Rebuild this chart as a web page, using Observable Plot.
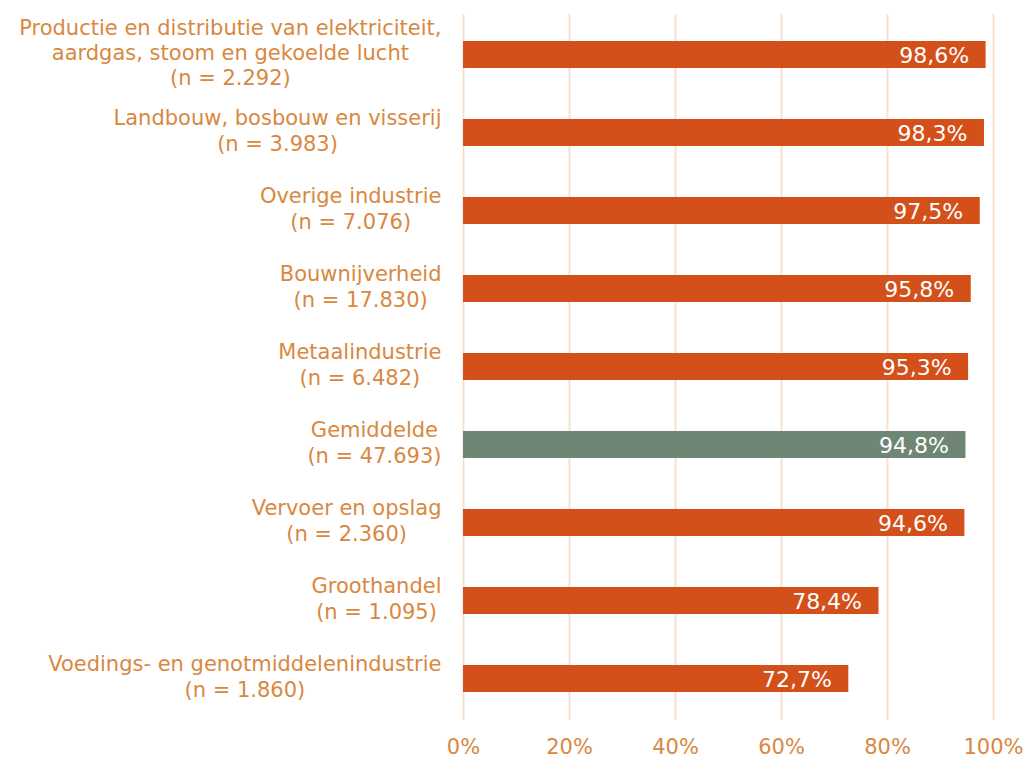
<!DOCTYPE html>
<html>
<head>
<meta charset="utf-8">
<script src="https://cdn.jsdelivr.net/npm/d3@7"></script>
<script src="https://cdn.jsdelivr.net/npm/@observablehq/plot@0.6"></script>
<style>
  html, body { margin: 0; padding: 0; background: #ffffff; }
</style>
</head>
<body>
<div id="chart"></div>
<script>
const categories = [
  "Productie en distributie van elektriciteit,\naardgas, stoom en gekoelde lucht",
  "Landbouw, bosbouw en visserij",
  "Overige industrie",
  "Bouwnijverheid",
  "Metaalindustrie",
  "Gemiddelde",
  "Vervoer en opslag",
  "Groothandel",
  "Voedings- en genotmiddelenindustrie"
];
const sampleSizes = ["2.292", "3.983", "7.076", "17.830", "6.482", "47.693", "2.360", "1.095", "1.860"];
const values = [98.6, 98.3, 97.5, 95.8, 95.3, 94.8, 94.6, 78.4, 72.7];
const averageCategory = "Gemiddelde";
const xTicks = [0, 20, 40, 60, 80, 100];

const data = categories.map((c, i) => ({
  label: `${c}\n(n = ${sampleSizes[i]})`,
  value: values[i],
  avg: c === averageCategory
}));

const orange = "#D4501A";
const grey = "#6F8675";
const textOrange = "#D8883F";
const gridColor = "#F6E2D1";
const fmt = d => d.value.toFixed(1).replace(".", ",") + "%";

const chart = Plot.plot({
  width: 1027,
  height: 758,
  marginLeft: 463,
  marginRight: 34,
  marginTop: 14,
  marginBottom: 38,
  style: { fontFamily: "'DejaVu Sans', Verdana, sans-serif", fontSize: "21px", background: "#ffffff" },
  x: { domain: [0, 100], label: null },
  y: { domain: data.map(d => d.label), paddingInner: 0.65, paddingOuter: 0.325, label: null },
  marks: [
    Plot.ruleX(xTicks, { stroke: gridColor, strokeWidth: 2 }),
    Plot.barX(data.filter(d => !d.avg), { x: "value", y: "label", fill: orange }),
    Plot.barX(data.filter(d => d.avg), { x: "value", y: "label", fill: grey }),
    Plot.text(data, { x: "value", y: "label", text: fmt, textAnchor: "end", dx: -17, dy: 1, fill: "#ffffff", fontSize: 22 }),
    Plot.axisX({ ticks: xTicks, tickFormat: d => d + "%", tickSize: 0, tickPadding: 19, fill: textOrange, fontSize: 21 }),
    Plot.axisY({ tickSize: 0, tickPadding: 22, dy: -3, textAnchor: "middle", lineHeight: 1.2, fill: textOrange, fontSize: 21 })
  ]
});

document.getElementById("chart").append(chart);

// center each multi-line label on its own widest line, right edge at the anchor
chart.querySelectorAll('g[aria-label="y-axis tick label"] text').forEach(t => {
  const w = t.getBBox().width;
  const tr = t.getAttribute("transform") || "";
  t.setAttribute("transform", `${tr} translate(${-w / 2},0)`);
});
</script>
</body>
</html>
